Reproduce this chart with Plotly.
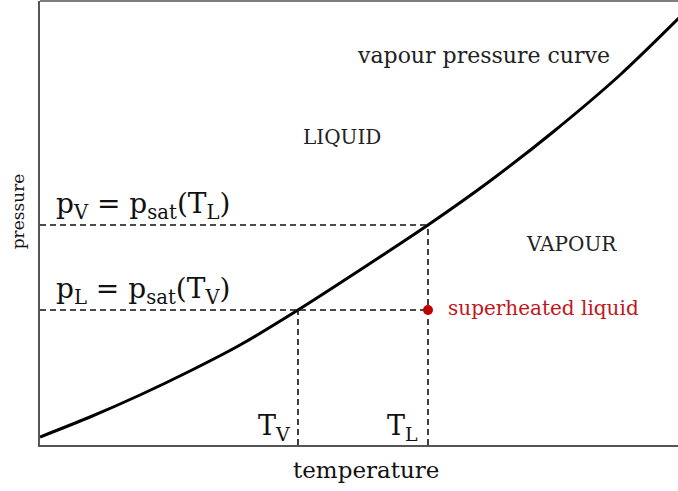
import plotly.graph_objects as go

# vapour pressure curve (temperature, pressure) in arbitrary units
curve_T = [0, 50, 100, 150, 200, 258, 320, 388, 450, 513, 580, 640]
curve_p = [8, 28, 50, 74, 100, 135, 175, 220, 264, 313, 370, 428]

T_V = 258
T_L = 388
p_L = 135   # p_sat(T_V)
p_V = 220   # p_sat(T_L)

x_range = [0, 638]
y_range = [0, 444]

serif = "DejaVu Serif"
fig = go.Figure()

fig.add_trace(go.Scatter(x=curve_T, y=curve_p, mode="lines",
                         line=dict(color="black", width=3, shape="spline", smoothing=0.8),
                         hoverinfo="skip", showlegend=False))

dash = dict(color="#111", width=1.6, dash="6px,4px")
fig.add_trace(go.Scatter(x=[0, T_L], y=[p_V, p_V], mode="lines", line=dash, showlegend=False))
fig.add_trace(go.Scatter(x=[0, T_L], y=[p_L, p_L], mode="lines", line=dash, showlegend=False))
fig.add_trace(go.Scatter(x=[T_L, T_L], y=[0, p_V], mode="lines", line=dash, showlegend=False))
fig.add_trace(go.Scatter(x=[T_V, T_V], y=[0, p_L], mode="lines", line=dash, showlegend=False))
fig.add_trace(go.Scatter(x=[T_L], y=[p_L], mode="markers",
                         marker=dict(color="#c00000", size=10), showlegend=False))

def ann(text, x, y, size, color="#222", xanchor="center"):
    fig.add_annotation(text=text, x=x, y=y, showarrow=False, xanchor=xanchor,
                       yanchor="middle", font=dict(family=serif, size=size, color=color))

ann("vapour pressure curve", 443, 390, 22)
ann("LIQUID", 302, 308, 20)
ann("VAPOUR", 531, 201, 20)
ann("superheated liquid", 406, 137, 20, color="#c0161c", xanchor="left")
ann("p<sub>V</sub> = p<sub>sat</sub>(T<sub>L</sub>)", 14, 240, 28, color="#111", xanchor="left")
ann("p<sub>L</sub> = p<sub>sat</sub>(T<sub>V</sub>)", 14, 155, 28, color="#111", xanchor="left")
ann("T<sub>V</sub>", 234, 18, 27, color="#111")
ann("T<sub>L</sub>", 362, 18, 27, color="#111")
fig.add_annotation(text="temperature", x=0.511, y=-0.056, xref="paper", yref="paper",
                   xanchor="center", yanchor="middle",
                   showarrow=False, font=dict(family=serif, size=23, color="#111"))
fig.add_annotation(text="pressure", x=-0.034, y=0.527, xref="paper", yref="paper",
                   xanchor="center", yanchor="middle",
                   showarrow=False, textangle=-90, font=dict(family=serif, size=17, color="#111"))

fig.add_shape(type="line", xref="paper", yref="paper", x0=0, x1=1.05, y0=1, y1=1,
              line=dict(color="#555", width=1.5))

fig.update_xaxes(range=x_range, showgrid=False, zeroline=False, showticklabels=False,
                 ticks="", showline=True, linecolor="#555", linewidth=1.5)
fig.update_yaxes(range=y_range, showgrid=False, zeroline=False, showticklabels=False,
                 ticks="", showline=True, linecolor="#555", linewidth=1.5)

fig.update_layout(width=678, height=491, margin=dict(l=40, r=0, t=1, b=46),
                  plot_bgcolor="white", paper_bgcolor="white")

fig.write_html("out.html", config={"displayModeBar": False},
               post_script="document.body.style.margin='0';")
